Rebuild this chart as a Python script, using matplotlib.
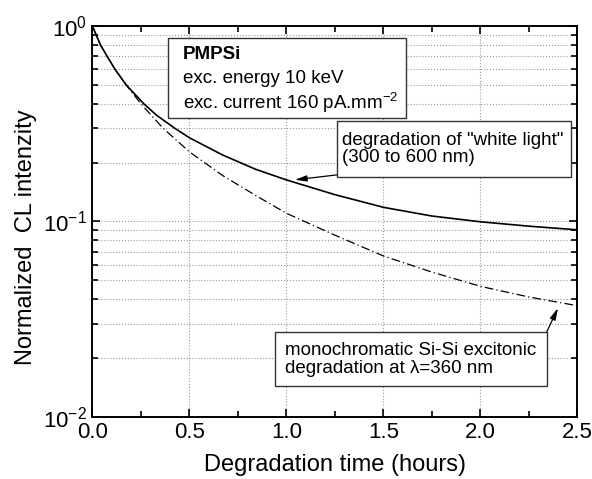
import matplotlib
matplotlib.use("Agg")
import matplotlib.pyplot as plt
from matplotlib.ticker import LogLocator, MultipleLocator, FixedFormatter, FixedLocator, NullFormatter
from matplotlib.patches import Rectangle
import numpy as np

plt.rcParams['font.family'] = ['Liberation Sans', 'DejaVu Sans']
plt.rcParams['mathtext.fontset'] = 'custom'
plt.rcParams['mathtext.rm'] = 'Liberation Sans'
plt.rcParams['mathtext.it'] = 'Liberation Sans:italic'
plt.rcParams['mathtext.bf'] = 'Liberation Sans:bold'

# Data
time_white = [0, 0.0197, 0.042, 0.076, 0.117, 0.174, 0.265, 0.33, 0.424, 0.5,
              0.67, 0.84, 1.0, 1.25, 1.5, 1.75, 2.0, 2.25, 2.5]
white_light = [1.0, 0.9, 0.8, 0.7, 0.6, 0.5, 0.4, 0.35, 0.3, 0.268,
               0.219, 0.185, 0.163, 0.137, 0.118, 0.1065, 0.0995, 0.0945, 0.0905]
time_mono = [0, 0.0197, 0.042, 0.076, 0.117, 0.174, 0.25, 0.364, 0.5,
             0.67, 0.84, 1.0, 1.25, 1.5, 1.75, 2.0, 2.25, 2.5]
mono_360 = [1.0, 0.9, 0.8, 0.7, 0.6, 0.5, 0.4, 0.3, 0.227,
            0.172, 0.136, 0.110, 0.085, 0.0665, 0.055, 0.0465, 0.041, 0.037]

y_ticks = [1e-2, 1e-1, 1e0]
y_ticklabels = ['10$^{-2}$', '10$^{-1}$', '10$^{0}$']
x_ticks = [0.0, 0.5, 1.0, 1.5, 2.0, 2.5]
x_ticklabels = ['0.0', '0.5', '1.0', '1.5', '2.0', '2.5']

info_lines = ['PMPSi', 'exc. energy 10 keV', 'exc. current 160 pA.mm$^{-2}$']
white_note = 'degradation of "white light"\n(300 to 600 nm)'
mono_note = 'monochromatic Si-Si excitonic\ndegradation at λ=360 nm'

fig = plt.figure(figsize=(5.92, 4.79), dpi=100)
ax = fig.add_axes([0.156, 0.130, 0.8195, 0.8157])

ax.plot(time_white, white_light, color='black', lw=1.2, zorder=3)
ax.plot(time_mono, mono_360, color='black', lw=0.9, linestyle=(0, (7, 2.5, 1, 2.5)), zorder=3)

ax.set_yscale('log')
ax.set_xlim(0, 2.5)
ax.set_ylim(1e-2, 1)

ax.xaxis.set_major_locator(FixedLocator(x_ticks))
ax.xaxis.set_major_formatter(FixedFormatter(x_ticklabels))
ax.xaxis.set_minor_locator(MultipleLocator(0.25))
ax.yaxis.set_major_locator(FixedLocator(y_ticks))
ax.yaxis.set_major_formatter(FixedFormatter(y_ticklabels))
ax.yaxis.set_minor_locator(LogLocator(base=10, subs=np.arange(2, 10)))
ax.yaxis.set_minor_formatter(NullFormatter())

ax.tick_params(which='both', direction='in', top=True, right=True, width=1.2)
ax.tick_params(which='major', length=6, labelsize=16, pad=4)
ax.tick_params(which='minor', length=4)
for s in ax.spines.values():
    s.set_linewidth(1.4)

ax.grid(True, which='major', axis='x', color='#999999', linestyle=':', lw=0.8)
ax.grid(True, which='both', axis='y', color='#999999', linestyle=':', lw=0.8)

ax.set_xlabel('Degradation time (hours)', fontsize=17, labelpad=8)
ax.set_ylabel('Normalized  CL intenzity', fontsize=17)
ax.yaxis.set_label_coords(-0.115, 0.46)

note_size = 13.5
box_kw = dict(transform=ax.transAxes, facecolor='white', edgecolor='#333333', lw=1.0, zorder=4)

# Info box
ax.add_patch(Rectangle((0.1557, 0.7645), 0.4907, 0.2045, **box_kw))
for line, yy, bold in zip(info_lines, [0.926, 0.866, 0.804], [True, False, False]):
    ax.text(0.1866, yy, line, transform=ax.transAxes, fontsize=note_size,
            fontweight='bold' if bold else 'normal', va='center', ha='left', zorder=5)

# White light note
ax.add_patch(Rectangle((0.504, 0.6135), 0.4826, 0.1435, **box_kw))
ax.text(0.514, 0.6855, white_note, transform=ax.transAxes, fontsize=note_size,
        va='center', ha='left', linespacing=1.05, zorder=5)
ax.annotate('', xy=(0.4175, 0.6063), xytext=(0.504, 0.619),
            xycoords='axes fraction', textcoords='axes fraction',
            arrowprops=dict(arrowstyle='-|>,head_length=0.7,head_width=0.18', color='black',
                            lw=0.9, shrinkA=0, shrinkB=0), zorder=5)

# Monochromatic note
ax.add_patch(Rectangle((0.3763, 0.0786), 0.5607, 0.1382, **box_kw))
ax.text(0.397, 0.147, mono_note, transform=ax.transAxes, fontsize=note_size,
        va='center', ha='left', linespacing=1.05, zorder=5)
ax.annotate('', xy=(0.9598, 0.278), xytext=(0.9365, 0.2168),
            xycoords='axes fraction', textcoords='axes fraction',
            arrowprops=dict(arrowstyle='-|>,head_length=0.7,head_width=0.18', color='black',
                            lw=0.9, shrinkA=0, shrinkB=0), zorder=5)

fig.savefig('out.png', dpi=100)
